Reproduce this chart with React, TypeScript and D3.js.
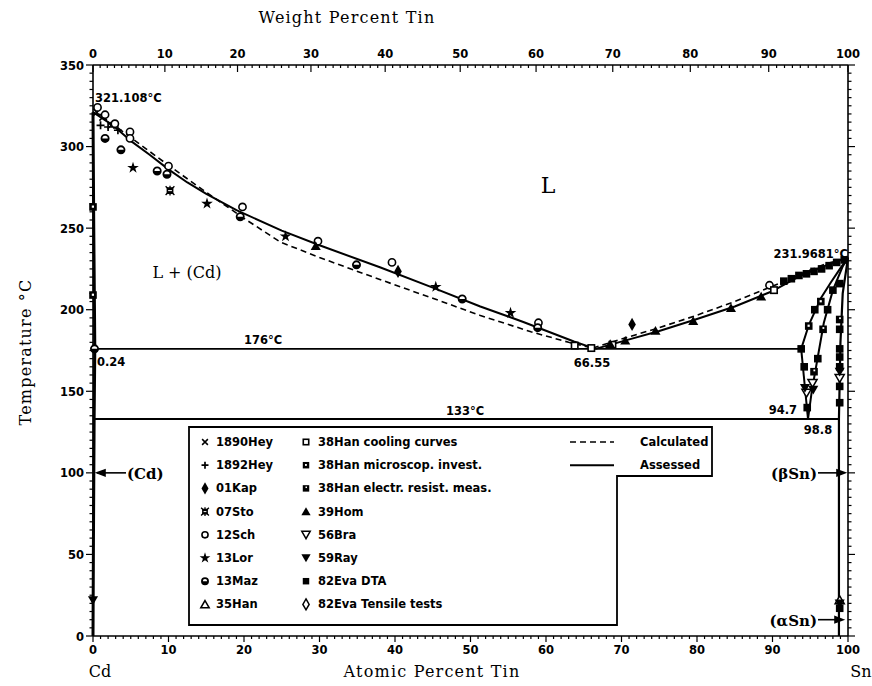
import React from 'react';
import * as d3 from 'd3';

// temperatures in °C, compositions in atomic percent Sn
const assessedLiquidusCd = [[0, 321.108], [1, 318], [2, 315], [3, 311.5], [5, 303.5], [7.5, 295], [10, 286], [12.5, 278], [15, 271], [19, 261], [25, 248.5], [30, 239.5], [38, 226], [45, 213.5], [51.3, 202], [57, 192.5], [63.7, 180.5], [66.55, 176]];
const calcLiquidusCd = [[0, 321.108], [2, 316], [5, 305.5], [10, 288.5], [15, 272], [20, 256], [24.8, 241.5], [30, 232], [38, 218.5], [45, 207], [51.3, 196.5], [58, 186.5], [63, 180], [66.2, 176.5]];
const assessedLiquidusSn = [[66.55, 176], [70.8, 181.5], [75, 187], [79.6, 193.7], [85, 202], [89.8, 211], [93.8, 221], [97, 227], [100, 231.9681]];
const calcLiquidusSn = [[66.2, 176.5], [70, 182], [75, 189], [79.6, 196], [85, 205], [89.8, 214], [93.8, 222], [97, 228], [100, 231.9681]];
const solidusCd = [[0, 321.108], [0.1, 250], [0.24, 176], [0.15, 133], [0.06, 60], [0, 0]];
const betaUpper = [[93.8, 176], [94.8, 190.5], [96.4, 207], [97.7, 216.5], [99, 225.5], [100, 231.9681]];
const betaLower = [[93.8, 176], [94.7, 133]];
const betaRight = [[94.7, 133], [95.2, 150], [96, 171], [96.8, 192], [98, 212], [99.3, 226.5], [100, 231.9681]];
const snSolvus = [[98.8, 0], [98.8, 133], [99, 180], [99.3, 210], [100, 231.9681]];
const eutectic = [[0.24, 176], [93.8, 176]];
const eutectoid = [[0, 133], [98.8, 133]];

const hey1890 = [[0.5, 321], [1.3, 318], [2.4, 313]];
const hey1892 = [[1, 313], [2, 312], [3.3, 310]];
const kap01 = [[40.4, 223.5], [71.4, 191]];
const sto07 = [[10.2, 273]];
const sch12 = [[0.6, 324], [1.6, 319.5], [2.9, 314], [4.9, 309], [4.9, 305], [10, 288], [19.8, 263], [29.8, 242], [39.6, 229], [59, 192], [89.6, 215]];
const lor13 = [[5.3, 287], [15.1, 265], [25.5, 245], [45.4, 214], [55.3, 198]];
const maz13 = [[0.2, 176], [1.6, 305], [3.7, 298], [8.5, 285], [9.8, 283], [19.5, 257], [34.9, 227.5], [48.9, 206.6], [58.9, 189]];
const han35 = [[98.9, 22]];
const hanCooling38 = [[63.8, 178], [66, 176.5], [68.8, 178.5], [90.2, 212]];
const hanMicro38 = [[0, 263], [0, 209], [96.4, 205], [94.8, 190]];
const hanResist38 = [[98.9, 194], [96.7, 188], [95.5, 162]];
const hom39 = [[29.5, 239], [68.5, 179], [70.5, 181], [74.5, 187], [79.5, 193], [84.5, 201], [88.5, 208]];
const bra56 = [[94.5, 149], [95.3, 155], [98.9, 158]];
const ray59 = [[0, 22], [94.3, 152], [95.4, 151], [98.9, 162], [98.9, 20]];
const evaDTA = [[91.5, 217.5], [92.5, 219], [93.5, 221], [94.5, 222], [95.5, 223.5], [96.5, 225], [97.5, 227], [98.5, 229], [99.5, 230.5], [98.9, 216], [98.9, 188], [98.9, 176], [98.9, 171], [98.9, 165], [98.9, 153], [98.9, 143], [98.9, 17], [96, 170], [97.3, 200], [98, 212], [94.2, 165], [94.6, 140], [95.6, 200], [93.8, 176]];
const evaTensile: number[][] = [];

const legendCol1 = ['1890Hey', '1892Hey', '01Kap', '07Sto', '12Sch', '13Lor', '13Maz', '35Han'];
const legendCol2 = ['38Han cooling curves', '38Han microscop. invest.', '38Han electr. resist. meas.', '39Hom', '56Bra', '59Ray', '82Eva DTA', '82Eva Tensile tests'];
const lineLegend = ['Calculated', 'Assessed'];

const atTicks = d3.range(0, 101, 10);
const tempTicks = d3.range(0, 351, 50);
const wtTicks = d3.range(0, 101, 10);

const M_CD = 112.41;
const M_SN = 118.71;
const wtToAt = (w: number) => (w >= 100 ? 100 : (100 * (w / M_SN)) / (w / M_SN + (100 - w) / M_CD));

const x = d3.scaleLinear().domain([0, 100]).range([93, 848]);
const y = d3.scaleLinear().domain([0, 350]).range([636, 65]);
const line = d3.line<number[]>().x(d => x(d[0])).y(d => y(d[1]));

const tickFont = { fontFamily: 'DejaVu Sans', fontWeight: 'bold' as const, fontSize: 11.5 };
const serif = { fontFamily: 'DejaVu Serif' };

const sym = (type: any, size: number) => d3.symbol().type(type).size(size)() as string;

function Marker({ kind, cx, cy, s = 1 }: { kind: string; cx: number; cy: number; s?: number }) {
  const t = `translate(${cx},${cy})`;
  const k = 3.4 * s;
  switch (kind) {
    case 'x':
      return <path transform={t} d={`M${-k},${-k}L${k},${k}M${-k},${k}L${k},${-k}`} stroke="#000" strokeWidth={1.5} />;
    case 'plus':
      return <path transform={t} d={`M${-k - 0.6},0H${k + 0.6}M0,${-k - 0.6}V${k + 0.6}`} stroke="#000" strokeWidth={1.7} />;
    case 'diamond':
      return <path transform={t} d={sym(d3.symbolDiamond, 50 * s)} fill="#000" />;
    case 'diamondOpen':
      return <path transform={t} d={sym(d3.symbolDiamond, 40 * s)} fill="#fff" stroke="#000" strokeWidth={1.5} />;
    case 'asterisk':
      return (
        <g transform={t}>
          <rect x={-k} y={-k} width={2 * k} height={2 * k} fill="#000" />
          <path d={`M${-k - 1},${-k - 1}L${k + 1},${k + 1}M${-k - 1},${k + 1}L${k + 1},${-k - 1}M0,${-k - 1.5}V${k + 1.5}`} stroke="#000" strokeWidth={1.3} />
          <path d={`M${-k + 1.5},0H${k - 1.5}`} stroke="#fff" strokeWidth={1} />
        </g>
      );
    case 'circle':
      return <circle cx={cx} cy={cy} r={3.6 * s} fill="#fff" stroke="#000" strokeWidth={1.6} />;
    case 'circleHalf':
      return (
        <g transform={t}>
          <circle r={3.6 * s} fill="#fff" stroke="#000" strokeWidth={1.8} />
          <path d={`M${-3.6 * s},0A${3.6 * s},${3.6 * s} 0 0 0 ${3.6 * s},0Z`} fill="#000" />
        </g>
      );
    case 'star':
      return <path transform={t} d={sym(d3.symbolStar, 42 * s)} fill="#000" />;
    case 'tri':
      return <path transform={`${t} translate(0,1)`} d={sym(d3.symbolTriangle, 36 * s)} fill="#fff" stroke="#000" strokeWidth={1.5} />;
    case 'triFill':
      return <path transform={`${t} translate(0,1)`} d={sym(d3.symbolTriangle, 44 * s)} fill="#000" />;
    case 'triDown':
      return <path transform={`${t} rotate(180) translate(0,1)`} d={sym(d3.symbolTriangle, 36 * s)} fill="#fff" stroke="#000" strokeWidth={1.5} />;
    case 'triDownFill':
      return <path transform={`${t} rotate(180) translate(0,1)`} d={sym(d3.symbolTriangle, 44 * s)} fill="#000" />;
    case 'sqOpen':
      return <rect x={cx - 3.2 * s} y={cy - 3.2 * s} width={6.4 * s} height={6.4 * s} fill="#fff" stroke="#000" strokeWidth={1.6} />;
    case 'sqDot':
      return (
        <g transform={t}>
          <rect x={-3.8 * s} y={-3.8 * s} width={7.6 * s} height={7.6 * s} fill="#000" />
          <rect x={-1.2 * s} y={-1.4 * s} width={2.2 * s} height={2.2 * s} fill="#fff" />
        </g>
      );
    case 'sqDot2':
      return (
        <g transform={t}>
          <rect x={-3.8 * s} y={-3.8 * s} width={7.6 * s} height={7.6 * s} fill="#000" />
          <rect x={-0.6 * s} y={-2.2 * s} width={1.8 * s} height={1.8 * s} fill="#fff" />
        </g>
      );
    case 'sqFill':
    default:
      return <rect x={cx - 3.8 * s} y={cy - 3.8 * s} width={7.6 * s} height={7.6 * s} fill="#000" />;
  }
}

const series: [string, number[][]][] = [
  ['x', hey1890], ['plus', hey1892], ['diamond', kap01], ['asterisk', sto07], ['circle', sch12],
  ['star', lor13], ['circleHalf', maz13], ['tri', han35], ['sqOpen', hanCooling38], ['sqDot', hanMicro38],
  ['sqDot2', hanResist38], ['triFill', hom39], ['triDown', bra56], ['triDownFill', ray59], ['sqFill', evaDTA],
  ['diamondOpen', evaTensile],
];
const col1Kinds = ['x', 'plus', 'diamond', 'asterisk', 'circle', 'star', 'circleHalf', 'tri'];
const col2Kinds = ['sqOpen', 'sqDot', 'sqDot2', 'triFill', 'triDown', 'triDownFill', 'sqFill', 'diamondOpen'];

export default function App() {
  const legRow = (i: number) => 446 + i * 23.2;
  return (
    <svg width={872} height={686} viewBox="0 0 872 686"
      style={{ position: 'absolute', left: 0, top: 0, display: 'block', background: '#fff' }}>
      {/* axes frame */}
      <g stroke="#000" strokeWidth={1.6} fill="none">
        <line x1={x(0)} x2={x(100)} y1={y(0)} y2={y(0)} />
        <line x1={x(0)} x2={x(100)} y1={y(350)} y2={y(350)} />
        <line x1={x(0)} x2={x(0)} y1={y(0)} y2={y(350)} />
        <line x1={x(100)} x2={x(100)} y1={y(0)} y2={y(350)} />
      </g>
      {/* ticks */}
      <g stroke="#000" strokeWidth={1.2}>
        {d3.range(0, 101, 1).map(v => (
          <line key={'b' + v} x1={x(v)} x2={x(v)} y1={y(0)} y2={y(0) + (v % 10 === 0 ? 6 : 3)} />
        ))}
        {d3.range(0, 101, 1).map(v => (
          <line key={'t' + v} x1={x(wtToAt(v))} x2={x(wtToAt(v))} y1={y(350)} y2={y(350) + (v % 10 === 0 ? 7 : 3)} />
        ))}
        {d3.range(0, 351, 5).map(v => (
          <line key={'l' + v} x1={x(0)} x2={x(0) - (v % 50 === 0 ? 7 : 3.5)} y1={y(v)} y2={y(v)} />
        ))}
        {d3.range(0, 351, 5).map(v => (
          <line key={'r' + v} x1={x(100)} x2={x(100) + (v % 50 === 0 ? 7 : 3.5)} y1={y(v)} y2={y(v)} />
        ))}
      </g>
      <g style={tickFont} fill="#000">
        {atTicks.map(v => (
          <text key={'bl' + v} x={x(v)} y={y(0) + 18} textAnchor="middle">{v}</text>
        ))}
        {wtTicks.map(v => (
          <text key={'tl' + v} x={x(wtToAt(v))} y={y(350) - 7} textAnchor="middle">{v}</text>
        ))}
        {tempTicks.map(v => (
          <text key={'ll' + v} x={x(0) - 9} y={y(v) + 4.5} textAnchor="end">{v}</text>
        ))}
      </g>
      {/* axis titles */}
      <g style={serif} fill="#000" fontSize={16}>
        <text x={347} y={23} textAnchor="middle" letterSpacing={1.2}>Weight Percent Tin</text>
        <text x={432} y={677} textAnchor="middle" letterSpacing={1.2}>Atomic Percent Tin</text>
        <text transform="translate(31,352) rotate(-90)" textAnchor="middle" letterSpacing={1.2}>Temperature °C</text>
        <text x={100} y={677} textAnchor="middle">Cd</text>
        <text x={861} y={677} textAnchor="middle">Sn</text>
      </g>
      {/* phase boundaries */}
      <g fill="none" stroke="#000" strokeLinejoin="round">
        <path d={line(assessedLiquidusCd)!} strokeWidth={2} />
        <path d={line(assessedLiquidusSn)!} strokeWidth={2} />
        <path d={line(calcLiquidusCd)!} strokeWidth={1.6} strokeDasharray="6,4" />
        <path d={line(calcLiquidusSn)!} strokeWidth={1.6} strokeDasharray="6,4" />
        <path d={line(solidusCd)!} strokeWidth={3} />
        <path d={line(eutectic)!} strokeWidth={1.8} />
        <path d={line(eutectoid)!} strokeWidth={1.8} />
        <path d={line(betaUpper)!} strokeWidth={2} />
        <path d={line(betaLower)!} strokeWidth={2} />
        <path d={line(betaRight)!} strokeWidth={2} />
        <path d={line(snSolvus)!} strokeWidth={2.2} />
      </g>
      {/* data points */}
      <g>
        {series.map(([kind, pts]) =>
          pts.map((p, i) => <Marker key={kind + i} kind={kind} cx={x(p[0])} cy={y(p[1])} />)
        )}
      </g>
      {/* labels */}
      <g style={tickFont} fontSize={12} fill="#000">
        <text x={95} y={102}>321.108°C</text>
        <text x={848} y={258} textAnchor="end">231.9681°C</text>
        <text x={97} y={366}>0.24</text>
        <text x={592} y={367} textAnchor="middle">66.55</text>
        <text x={797} y={414} textAnchor="end">94.7</text>
        <text x={818} y={434} textAnchor="middle">98.8</text>
        <text x={263} y={344} textAnchor="middle">176°C</text>
        <text x={465} y={415} textAnchor="middle">133°C</text>
      </g>
      <g style={serif} fill="#000">
        <text x={548} y={193} fontSize={22} textAnchor="middle">L</text>
        <text x={187} y={278} fontSize={16} textAnchor="middle">L + (Cd)</text>
        <text x={127} y={479} fontSize={15} fontWeight="bold">(Cd)</text>
        <text x={817} y={479} fontSize={15} fontWeight="bold" textAnchor="end">(βSn)</text>
        <text x={817} y={626} fontSize={15} fontWeight="bold" textAnchor="end">(αSn)</text>
      </g>
      <g stroke="#000" strokeWidth={1.6} fill="#000">
        <line x1={97} x2={126} y1={y(100)} y2={y(100)} />
        <path d={`M97,${y(100)}l8,-3v6z`} />
        <line x1={818} x2={844} y1={y(100)} y2={y(100)} />
        <path d={`M845,${y(100)}l-8,-3v6z`} />
        <line x1={818} x2={842} y1={y(10)} y2={y(10)} />
        <path d={`M843,${y(10)}l-8,-3v6z`} />
      </g>
      {/* legend */}
      <path d="M189,427H712V476H617V625H189Z" fill="#fff" stroke="#000" strokeWidth={1.8} />
      <g style={tickFont} fontSize={12.5} fill="#000">
        {legendCol1.map((n, i) => (
          <g key={n}>
            <Marker kind={col1Kinds[i]} cx={205} cy={legRow(i) - 4} s={0.85} />
            <text x={216} y={legRow(i)}>{n}</text>
          </g>
        ))}
        {legendCol2.map((n, i) => (
          <g key={n}>
            <Marker kind={col2Kinds[i]} cx={306} cy={legRow(i) - 4} s={0.85} />
            <text x={318} y={legRow(i)}>{n}</text>
          </g>
        ))}
        <line x1={570} x2={614} y1={legRow(0) - 4} y2={legRow(0) - 4} stroke="#000" strokeWidth={1.6} strokeDasharray="6,4" />
        <line x1={570} x2={614} y1={legRow(1) - 4} y2={legRow(1) - 4} stroke="#000" strokeWidth={2} />
        {lineLegend.map((n, i) => (
          <text key={n} x={640} y={legRow(i)}>{n}</text>
        ))}
      </g>
    </svg>
  );
}
